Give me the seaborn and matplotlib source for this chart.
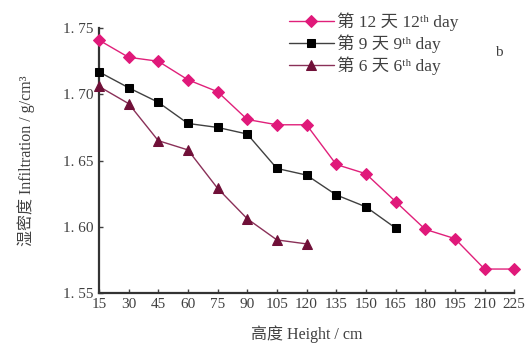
import matplotlib
matplotlib.use("Agg")
import matplotlib.pyplot as plt
import seaborn as sns
import pandas as pd

sns.set_theme(style="ticks")
plt.rcParams['font.family'] = ['Liberation Serif', 'Noto Sans CJK SC', 'DejaVu Serif']

heights_12 = [15, 30, 45, 60, 75, 90, 105, 120, 135, 150, 165, 180, 195, 210, 225]
density_12 = [1.741, 1.728, 1.725, 1.711, 1.702, 1.681, 1.677, 1.677, 1.647, 1.640, 1.619, 1.598, 1.591, 1.568, 1.568]

heights_9 = [15, 30, 45, 60, 75, 90, 105, 120, 135, 150, 165]
density_9 = [1.717, 1.705, 1.694, 1.678, 1.675, 1.670, 1.644, 1.639, 1.624, 1.615, 1.599]

heights_6 = [15, 30, 45, 60, 75, 90, 105, 120]
density_6 = [1.706, 1.693, 1.665, 1.658, 1.629, 1.606, 1.590, 1.587]

labels = ["第 12 天 12ᵗʰ day", "第 9 天 9ᵗʰ day", "第 6 天 6ᵗʰ day"]
xticks = [15, 30, 45, 60, 75, 90, 105, 120, 135, 150, 165, 180, 195, 210, 225]
yticks = [1.55, 1.60, 1.65, 1.70, 1.75]

fig = plt.figure(figsize=(5.29, 3.52), dpi=100)
ax = fig.add_axes([0.187, 0.168, 0.785, 0.752])

styles = [
    dict(color="#e0207a", marker="D", markersize=6.5, mfc="#e0197a", mec="#e0197a", lw=1.0),
    dict(color="#404040", marker="s", markersize=6, mfc="black", mec="black", lw=1.0),
    dict(color="#8a3058", marker="^", markersize=7, mfc="#701038", mec="#701038", lw=1.0),
]
series = [(heights_12, density_12), (heights_9, density_9), (heights_6, density_6)]

for (h, d), lab, st in zip(series, labels, styles):
    df = pd.DataFrame({"h": h, "d": d})
    sns.lineplot(data=df, x="h", y="d", ax=ax, label=lab, color=st["color"],
                 marker=st["marker"], markersize=st["markersize"],
                 markerfacecolor=st["mfc"], markeredgecolor=st["mec"],
                 linewidth=st["lw"], clip_on=False, zorder=3)

ax.set_xlim(15, 225)
ax.set_ylim(1.55, 1.75)
ax.set_xticks(xticks)
ax.set_xticklabels([str(v) for v in xticks])
ax.set_yticks(yticks)
ax.set_yticklabels([f"{v:.2f}".replace(".", ". ") for v in yticks])
ax.tick_params(direction="in", length=3, width=1, labelsize=11, colors="#404040", pad=4)
for side in ("top", "right"):
    ax.spines[side].set_visible(False)
for side in ("left", "bottom"):
    ax.spines[side].set_color("#333333")
    ax.spines[side].set_linewidth(1.6)

ax.set_xlabel("高度 Height / cm", fontsize=11.5, color="#404040", labelpad=10)
ax.set_ylabel("湿密度 Infiltration / g/cm³", fontsize=11.5, color="#404040", labelpad=20)

leg = ax.legend(loc="upper left", bbox_to_anchor=(0.44, 1.085), frameon=False,
                fontsize=12.5, handlelength=2.6, handletextpad=0.2, labelspacing=0.2,
                borderaxespad=0, labelcolor="#404040")
fig.text(0.935, 0.84, "b", fontsize=11, color="#404040")

fig.savefig("out.png", dpi=100)
